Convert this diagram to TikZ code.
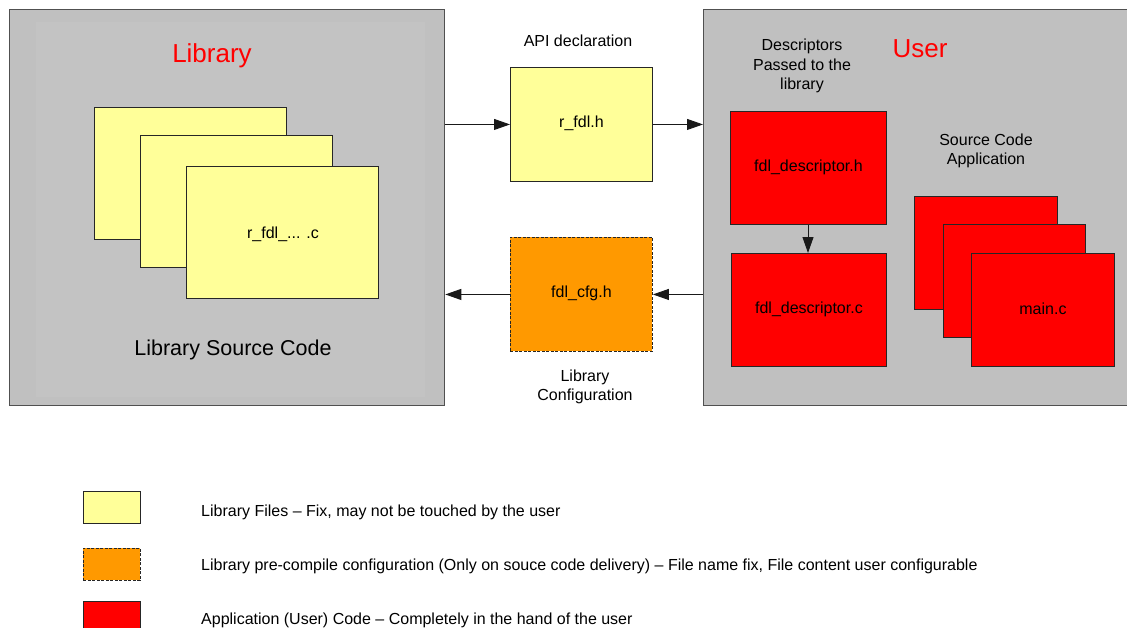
\documentclass[tikz,border=0pt]{standalone}
\usepackage{fontspec}
\setmainfont{Liberation Sans}
\usetikzlibrary{arrows.meta}
\definecolor{libyellow}{HTML}{FFFF99}
\definecolor{cfgorange}{HTML}{FF9900}
\definecolor{usrred}{HTML}{FF0000}
\definecolor{areagray}{HTML}{C0C0C0}
\definecolor{areainner}{HTML}{C3C3C3}
\definecolor{framegray}{HTML}{505050}
\begin{document}
\begin{tikzpicture}[x=1pt,y=-1pt,
  lbl/.style={font=\fontsize{16}{19.5}\selectfont, align=center, inner sep=0pt},
  area/.style={draw=framegray, line width=1.3pt, fill=areagray, anchor=north west, inner sep=0pt},
  filebox/.style={draw=black!85, line width=0.9pt, anchor=north west, inner sep=0pt},
  yfile/.style={filebox, fill=libyellow},
  rfile/.style={filebox, fill=usrred},
  ofile/.style={filebox, fill=cfgorange, dashed, dash pattern=on 3pt off 1.5pt},
  arr/.style={draw=black!90, line width=0.9pt, -{Triangle[length=16pt,width=11pt]}},
  title/.style={font=\fontsize{26}{30}\selectfont, text=usrred, inner sep=0pt}
]
\useasboundingbox (0,0) rectangle (1127,627);
\fill[white] (0,0) rectangle (1127,627);

% Library area
\node[area, minimum width=435pt, minimum height=396pt] (lib) at (9,9) {};
\fill[areainner] (36,22) rectangle (425,397);
\node[title] (libtitle) at (212,56) {Library};
\node[yfile, minimum width=192pt, minimum height=132pt] (lf1) at (94,107) {};
\node[yfile, minimum width=192pt, minimum height=132pt] (lf2) at (140,135) {};
\node[yfile, minimum width=192pt, minimum height=132pt] (lf3) at (186,166) {};
\node[lbl] (lfl) at (283,234) {r\_fdl\_... .c};
\node[font=\fontsize{21.5}{25}\selectfont, inner sep=0pt] (libsrc) at (233,350) {Library Source Code};

% User area
\node[area, minimum width=440pt, minimum height=396pt] (user) at (703,9) {};
\node[title] (usertitle) at (920,49) {User};
\node[lbl] (desclbl) at (802,66) {Descriptors\\Passed to the\\library};
\node[rfile, minimum width=156pt, minimum height=113pt] (dh) at (730,111) {};
\node[lbl] at ([yshift=1pt]dh.center) {fdl\_descriptor.h};
\node[rfile, minimum width=155pt, minimum height=113pt] (dc) at (731,253) {};
\node[lbl] at ([yshift=1pt]dc.center) {fdl\_descriptor.c};
\draw[arr] (dh.south -| 808,0) -- (dc.north -| 808,0);
\node[lbl] (applbl) at (986,151) {Source Code\\Application};
\node[rfile, minimum width=143pt, minimum height=113pt] (m1) at (914,196) {};
\node[rfile, minimum width=142pt, minimum height=113pt] (m2) at (943,224) {};
\node[rfile, minimum width=143pt, minimum height=113pt] (m3) at (971,253) {};
\node[lbl] at ([yshift=1pt]m3.center) {main.c};

% Middle
\node[lbl] (apilbl) at (578,41) {API declaration};
\node[yfile, minimum width=142pt, minimum height=114pt] (rfdl) at (510,67) {};
\node[lbl] at ([yshift=1pt]rfdl.center) {r\_fdl.h};
\node[ofile, minimum width=142pt, minimum height=114pt] (cfg) at (510,237) {};
\node[lbl] at ([yshift=1pt]cfg.center) {fdl\_cfg.h};
\node[lbl] (cfglbl) at (585,387) {Library\\Configuration};

\draw[arr] (rfdl.west -| lib.east) -- (rfdl.west);
\draw[arr] (rfdl.east) -- (rfdl.east -| user.west);
\draw[arr] (cfg.east -| user.west) -- (cfg.east);
\draw[arr] (cfg.west) -- (cfg.west -| lib.east);

% Legend
\node[yfile, minimum width=57pt, minimum height=32pt] (leg1) at (83,491) {};
\node[ofile, minimum width=57pt, minimum height=32pt] (leg2) at (83,548) {};
\node[rfile, minimum width=57pt, minimum height=32pt] (leg3) at (83,601) {};
\node[lbl, anchor=west] (legt1) at (201,512) {Library Files – Fix, may not be touched by the user};
\node[lbl, anchor=west] (legt2) at (201,566) {Library pre-compile configuration (Only on souce code delivery) – File name fix, File content user configurable};
\node[lbl, anchor=west] (legt3) at (201,620) {Application (User) Code – Completely in the hand of the user};
\end{tikzpicture}
\end{document}
